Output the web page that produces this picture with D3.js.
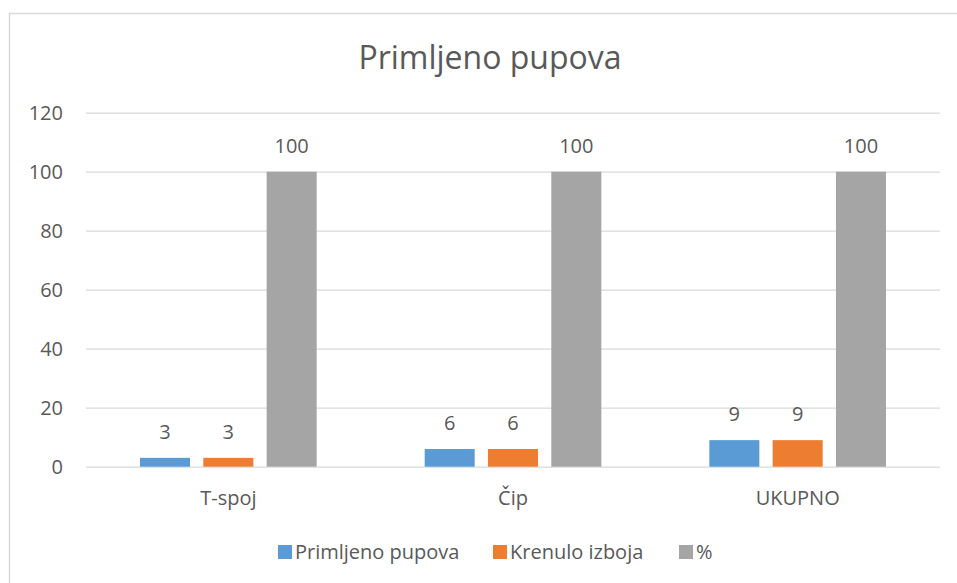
<!DOCTYPE html>
<html>
<head>
<meta charset="utf-8">
<script src="https://cdn.jsdelivr.net/npm/d3@7"></script>
<style>
  body { margin: 0; background: #fff; }
  text { font-family: "Open Sans", sans-serif; fill: #595959; }
</style>
</head>
<body>
<div id="chart"></div>
<script>
var categories = ["T-spoj", "Čip", "UKUPNO"];
var seriesNames = ["Primljeno pupova", "Krenulo izboja", "%"];
var primljeno = [3, 6, 9];
var krenulo = [3, 6, 9];
var postotak = [100, 100, 100];
var yTicks = [0, 20, 40, 60, 80, 100, 120];
var colors = ["#5B9BD5", "#ED7D31", "#A5A5A5"];

var W = 957, H = 583;
var margin = {top: 112.7, right: 17, bottom: 116.3, left: 86},
    width = W - margin.left - margin.right,
    height = H - margin.top - margin.bottom;

var svg = d3.select("#chart")
  .append("svg")
    .attr("width", W)
    .attr("height", H);

// chart border (only top/left visible in reference)
svg.append("rect")
    .attr("x", 9.5).attr("y", 13.5)
    .attr("width", W + 20).attr("height", H + 20)
    .attr("fill", "none")
    .attr("stroke", "#D9D9D9")
    .attr("stroke-width", 1.5);

svg.append("text")
    .attr("x", 490).attr("y", 69)
    .attr("text-anchor", "middle")
    .style("font-size", "32px")
    .text("Primljeno pupova");

var g = svg.append("g")
    .attr("transform", "translate(" + margin.left + "," + margin.top + ")");

var y = d3.scaleLinear().domain([0, 120]).range([height, 0]);

var yAxis = g.append("g")
    .call(d3.axisLeft(y).tickValues(yTicks).tickSize(-width).tickPadding(23));
yAxis.select(".domain").remove();
yAxis.selectAll("line").attr("stroke", "#D9D9D9").attr("stroke-width", 1.3);
yAxis.selectAll("text").style("font-size", "20px").attr("fill", "#595959");

var x0 = d3.scaleBand().domain(categories).range([0, width]);
var groupPad = 54;
var x1 = d3.scaleBand().domain(seriesNames)
    .range([0, x0.bandwidth() - 2 * groupPad])
    .paddingInner(0.21);

var xAxis = g.append("g")
    .attr("transform", "translate(0," + height + ")")
    .call(d3.axisBottom(x0).tickSize(0).tickPadding(24));
xAxis.select(".domain").remove();
xAxis.selectAll("text").style("font-size", "20px").attr("fill", "#595959");

var rows = categories.map(function(c, i) {
  return {cat: c, vals: [primljeno[i], krenulo[i], postotak[i]]};
});

var groups = g.selectAll(".grp")
  .data(rows)
  .enter().append("g")
    .attr("class", "grp")
    .attr("transform", function(d) { return "translate(" + (x0(d.cat) + groupPad) + ",0)"; });

groups.selectAll("rect")
  .data(function(d) { return d.vals.map(function(v, j) { return {name: seriesNames[j], v: v, j: j}; }); })
  .enter().append("rect")
    .attr("x", function(d) { return x1(d.name); })
    .attr("y", function(d) { return y(d.v); })
    .attr("width", x1.bandwidth())
    .attr("height", function(d) { return height - y(d.v); })
    .attr("fill", function(d) { return colors[d.j]; });

groups.selectAll(".lbl")
  .data(function(d) { return d.vals.map(function(v, j) { return {name: seriesNames[j], v: v}; }); })
  .enter().append("text")
    .attr("class", "lbl")
    .attr("x", function(d) { return x1(d.name) + x1.bandwidth() / 2; })
    .attr("y", function(d) { return y(d.v) - 19; })
    .attr("text-anchor", "middle")
    .style("font-size", "20px")
    .text(function(d) { return d.v; });

// legend
var legendX = [278, 493, 679];
var legend = svg.append("g");
seriesNames.forEach(function(n, i) {
  legend.append("rect")
      .attr("x", legendX[i]).attr("y", 545)
      .attr("width", 14).attr("height", 14)
      .attr("fill", colors[i]);
  legend.append("text")
      .attr("x", legendX[i] + 17).attr("y", 559)
      .style("font-size", "20px")
      .text(n);
});
</script>
</body>
</html>
